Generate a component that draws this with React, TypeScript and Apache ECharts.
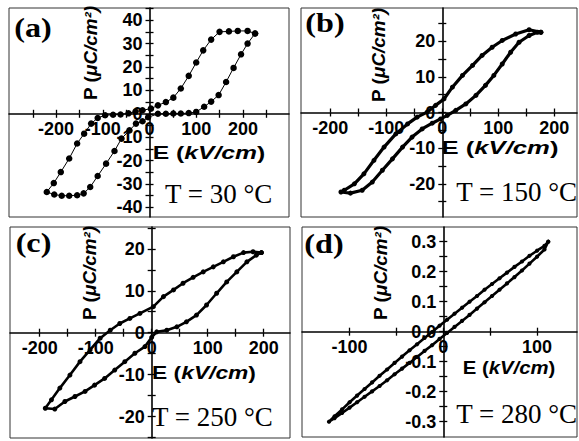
import React, { useEffect, useRef } from 'react';
import * as echarts from 'echarts';

// (a) T = 30 °C  — E (kV/cm), P (µC/cm²), traced around the loop
const aE = [226, 210, 189, 170, 150, 132, 115, 100, 84, 67, 51, 35, 18, 3, -15, -30, -45, -62, -78, -95, -111, -125, -140, -155, -172, -190, -205, -220, -204, -188, -172, -155, -141, -127, -111, -93, -75, -60, -43, -29, -15, -3, 18, 35, 51, 67, 84, 100, 117, 132, 148, 164, 180, 196, 210, 226];
const aP = [34.3, 35.4, 35.4, 35.2, 35.0, 31.7, 27.1, 21.9, 16.2, 10.8, 6.9, 5.0, 3.6, 2.2, 1.5, 0.9, 0.2, -0.3, -0.4, -0.6, -1.8, -4.2, -8.5, -12.7, -19.1, -24.9, -29.6, -33.4, -34.5, -35.0, -35.0, -34.8, -34.0, -31.3, -26.6, -21.3, -15.9, -10.6, -7.1, -4.2, -3.2, -1.5, 0.0, 0.0, 0.1, 0.1, 0.3, 0.8, 3.0, 5.2, 8.0, 13.6, 19.6, 25.4, 30.0, 34.3];

// (b) T = 150 °C
const bE = [176, 155, 131, 107, 89, 71, 54, 36, 18, 3, -12, -27, -45, -62, -83, -104, -122, -140, -157, -175, -181, -164, -143, -125, -107, -89, -71, -54, -36, -18, -3, 9, 24, 42, 60, 77, 92, 107, 122, 137, 155, 170, 176];
const bP = [22.5, 23.2, 22.0, 20.2, 18.3, 16.0, 13.2, 10.4, 7.1, 3.8, 2.0, 0.1, -1.3, -3.2, -6.0, -9.7, -13.4, -17.2, -20.0, -21.8, -22.3, -22.6, -21.8, -19.5, -16.2, -13.0, -9.7, -6.9, -4.6, -3.0, -1.8, -0.8, 0.6, 2.4, 4.8, 7.6, 10.4, 13.6, 16.9, 19.7, 21.6, 22.5, 22.5];

// (c) T = 250 °C
const cE = [196, 181, 164, 146, 128, 110, 92, 74, 56, 39, 21, 3, -21, -39, -57, -74, -92, -110, -128, -146, -164, -179, -190, -173, -155, -137, -119, -102, -84, -66, -48, -30, -12, 0, 9, 27, 45, 62, 80, 98, 116, 134, 152, 170, 187, 196];
const cP = [19.1, 19.3, 19.1, 18.1, 16.9, 15.7, 14.5, 13.2, 11.8, 10.2, 8.6, 6.2, 4.6, 3.4, 2.2, 0.6, -1.3, -4.1, -6.9, -10.1, -13.2, -16.0, -18.0, -18.2, -16.4, -15.2, -14.0, -12.5, -10.9, -8.9, -6.9, -4.9, -3.3, -1.1, 0.2, 0.6, 1.4, 2.6, 4.2, 6.6, 9.4, 12.1, 14.5, 16.9, 18.5, 19.1];

// (d) T = 280 °C
const dE = [112, 108, 100, 92, 84, 76, 68, 60, 52, 44, 36, 28, 20, 12, 4, -4, -12, -20, -28, -36, -44, -52, -60, -68, -76, -84, -92, -100, -108, -116, -122, -116, -108, -100, -92, -84, -76, -68, -60, -52, -44, -36, -28, -20, -12, -4, 4, 12, 20, 28, 36, 44, 52, 60, 68, 76, 84, 92, 100, 108, 112];
const dP = [0.300, 0.286, 0.270, 0.253, 0.234, 0.216, 0.197, 0.178, 0.159, 0.140, 0.119, 0.100, 0.080, 0.060, 0.040, 0.020, -0.001, -0.021, -0.042, -0.062, -0.083, -0.104, -0.126, -0.147, -0.169, -0.191, -0.213, -0.235, -0.259, -0.282, -0.300, -0.288, -0.271, -0.253, -0.235, -0.217, -0.199, -0.181, -0.162, -0.142, -0.123, -0.104, -0.084, -0.064, -0.045, -0.024, -0.004, 0.016, 0.036, 0.056, 0.077, 0.098, 0.119, 0.140, 0.161, 0.182, 0.204, 0.227, 0.250, 0.274, 0.300];

// Tick values and labels
const aXTicks = [-250, -200, -150, -100, -50, 0, 50, 100, 150, 200, 250];
const bcXTicks = [-200, -150, -100, -50, 0, 50, 100, 150, 200];
const abcXLabels = [-200, -100, 0, 100, 200];
const aYTicks = [-40, -35, -30, -25, -20, -15, -10, -5, 0, 5, 10, 15, 20, 25, 30, 35, 40, 45];
const aYLabels = [-40, -30, -20, -10, 0, 10, 20, 30, 40];
const bcYTicks = [-25, -20, -15, -10, -5, 0, 5, 10, 15, 20, 25];
const bcYLabels = [-20, -10, 0, 10, 20];
const dXTicks = [-100, -50, 0, 50, 100];
const dXLabels = [-100, 0, 100];
const dYTicks = [-0.3, -0.25, -0.2, -0.15, -0.1, -0.05, 0, 0.05, 0.1, 0.15, 0.2, 0.25, 0.3];
const dYLabels = [-0.3, -0.2, -0.1, 0, 0.1, 0.2, 0.3];

const panelTags = ['(a)', '(b)', '(c)', '(d)'];
const temperatures = ['T = 30 °C', 'T = 150 °C', 'T = 250 °C', 'T = 280 °C'];

const panelData = [
  { E: aE, P: aP, xTicks: aXTicks, xLabels: abcXLabels, yTicks: aYTicks, yLabels: aYLabels, yDec: 0 },
  { E: bE, P: bP, xTicks: bcXTicks, xLabels: abcXLabels, yTicks: bcYTicks, yLabels: bcYLabels, yDec: 0 },
  { E: cE, P: cP, xTicks: bcXTicks, xLabels: abcXLabels, yTicks: bcYTicks, yLabels: bcYLabels, yDec: 0 },
  { E: dE, P: dP, xTicks: dXTicks, xLabels: dXLabels, yTicks: dYTicks, yLabels: dYLabels, yDec: 1 },
];

// Layout (pixels) for each panel
const layout = [
  { left: 9, top: 8, width: 280, height: 209, xMin: -300.9, xMax: 298.7, yMin: -44.1, yMax: 45.2, sym: 6.5, lw: 1, tag: [33, 28], pt: [91, 53], et: [209, 153], es: 1.3, tp: [165, 194], ta: 'left' },
  { left: 301, top: 8, width: 276, height: 209, xMin: -252.3, xMax: 240.5, yMin: -29.3, yMax: 29.3, sym: 5, lw: 3.2, tag: [325, 23], pt: [379, 55], et: [500, 148], es: 1.35, tp: [577, 192], ta: 'right' },
  { left: 10, top: 227, width: 280, height: 211, xMin: -253, xMax: 247, yMin: -25.1, yMax: 25.2, sym: 5, lw: 2.6, tag: [33.5, 243], pt: [90, 273], et: [204, 372], es: 1.2, tp: [152, 417], ta: 'left' },
  { left: 302, top: 227, width: 275, height: 210, xMin: -150.8, xMax: 142.7, yMin: -0.351, yMax: 0.349, sym: 4.2, lw: 2.6, tag: [324, 244], pt: [381, 273], et: [509, 367], es: 1.07, tp: [577, 414], ta: 'right' },
];

const SANS = '"Liberation Sans", Arial, sans-serif';
const SERIF = '"Liberation Serif", "Times New Roman", serif';

function buildOption() {
  const grid: any[] = [];
  const xAxis: any[] = [];
  const yAxis: any[] = [];
  const series: any[] = [];
  const graphic: any[] = [];

  panelData.forEach((pd, g) => {
    const L = layout[g];
    grid.push({
      left: L.left, top: L.top, width: L.width, height: L.height,
      containLabel: false, outerBoundsMode: 'none',
      show: true, borderColor: '#333', borderWidth: 1, backgroundColor: 'transparent',
    });
    // place the axes through the origin by offsetting them into the grid
    const xAxisOffset = -L.height * (-L.yMin) / (L.yMax - L.yMin);
    const yAxisOffset = -L.width * (-L.xMin) / (L.xMax - L.xMin);
    const lineStyle = { color: '#000', width: 1.6 };
    const tickStyle = { color: '#000', width: 1.3 };
    const labelBase = { color: '#000', fontFamily: SANS, fontWeight: 'bold', fontSize: 18 };
    [false, true].forEach((second) => {
      xAxis.push({
        type: 'value', gridIndex: g, position: 'bottom', offset: xAxisOffset,
        min: L.xMin, max: L.xMax, silent: true,
        splitLine: { show: false },
        axisLine: { show: !second, onZero: false, lineStyle },
        axisTick: { show: true, inside: second, length: 4, customValues: pd.xTicks, lineStyle: tickStyle },
        axisLabel: second
          ? { show: false }
          : { show: true, margin: 6, customValues: pd.xLabels, ...labelBase, formatter: (v: number) => String(v) },
      });
      yAxis.push({
        type: 'value', gridIndex: g, position: 'left', offset: yAxisOffset,
        min: L.yMin, max: L.yMax, silent: true,
        splitLine: { show: false },
        axisLine: { show: !second, onZero: false, lineStyle },
        axisTick: { show: true, inside: second, length: 4, customValues: pd.yTicks, lineStyle: tickStyle },
        axisLabel: second
          ? { show: false }
          : {
              show: true, margin: 7, customValues: pd.yLabels, ...labelBase,
              formatter: (v: number) => (pd.yDec ? v.toFixed(pd.yDec) : String(v)),
            },
      });
    });
    series.push({
      type: 'line', xAxisIndex: 2 * g, yAxisIndex: 2 * g, z: 5,
      data: pd.E.map((e, i) => [e, pd.P[i]]),
      symbol: 'circle', symbolSize: L.sym, showSymbol: true,
      lineStyle: { color: '#000', width: L.lw },
      itemStyle: { color: '#000' },
    });

    graphic.push({
      type: 'text', x: L.tag[0], y: L.tag[1], scaleX: 1.15, z: 10,
      style: { text: panelTags[g], font: `bold 28px ${SERIF}`, fill: '#000', textAlign: 'center', textVerticalAlign: 'middle' },
    });
    graphic.push({
      type: 'text', x: L.pt[0], y: L.pt[1], rotation: Math.PI / 2, scaleX: 1.05, z: 10,
      style: {
        text: '{n|P (}{i|μC/cm²)}', fill: '#000', textAlign: 'center', textVerticalAlign: 'middle',
        rich: {
          n: { font: `bold 18px ${SANS}`, fill: '#000' },
          i: { font: `italic bold 18px ${SANS}`, fill: '#000' },
        },
      },
    });
    graphic.push({
      type: 'text', x: L.et[0], y: L.et[1], scaleX: L.es, z: 10,
      style: {
        text: '{n|E (}{i|kV/cm}{n|)}', fill: '#000', textAlign: 'center', textVerticalAlign: 'middle',
        rich: {
          n: { font: `bold 19px ${SANS}`, fill: '#000' },
          i: { font: `italic bold 19px ${SANS}`, fill: '#000' },
        },
      },
    });
    graphic.push({
      type: 'text', x: L.tp[0], y: L.tp[1], z: 10,
      style: { text: temperatures[g], font: `27px ${SERIF}`, fill: '#000', textAlign: L.ta, textVerticalAlign: 'middle' },
    });
  });

  return { animation: false, backgroundColor: '#fff', grid, xAxis, yAxis, series, graphic };
}

export default function App() {
  const ref = useRef<HTMLDivElement>(null);
  useEffect(() => {
    if (!ref.current) return;
    const chart = echarts.init(ref.current, undefined, { renderer: 'svg' });
    chart.setOption(buildOption() as any);
    return () => chart.dispose();
  }, []);
  return (
    <div
      ref={ref}
      style={{ position: 'absolute', left: 0, top: 0, width: 579, height: 441, background: '#fff' }}
    />
  );
}
